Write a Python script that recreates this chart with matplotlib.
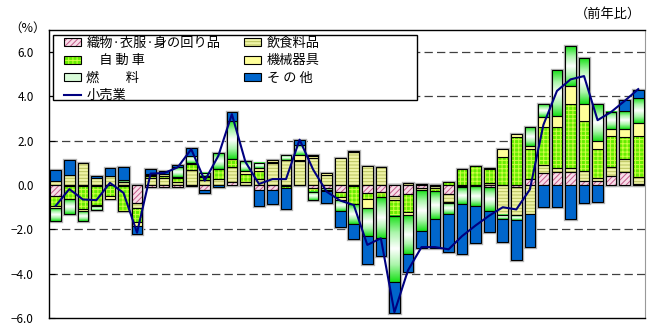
import numpy as np
import matplotlib
matplotlib.use('Agg')
import matplotlib.pyplot as plt
from matplotlib.colors import LinearSegmentedColormap
from matplotlib.patches import Rectangle, Patch
from matplotlib.lines import Line2D

plt.rcParams['font.family'] = ['Noto Sans CJK JP', 'DejaVu Sans']
plt.rcParams['hatch.linewidth'] = 0.7
plt.rcParams['lines.scale_dashes'] = False

# 寄与度 (%), 44 期間
textile = [-0.5, -0.05, -0.05, -0.05, 0.0, -0.05, -0.8, -0.1, -0.1, -0.1,
           -0.05, -0.2, 0.0, 0.12, 0.0, -0.2, -0.2, -0.03, 0.0, -0.12,
           -0.12, -0.3, -0.02, -0.35, -0.33, -0.48, -0.4, -0.12, -0.05, -0.42,
           -0.05, 0.0, -0.1, 0.0, -0.1, 0.27, 0.55, 0.57, 0.57, 0.2,
           0.2, 0.42, 0.57, 0.05]
food = [0.2, 0.45, 0.98, 0.32, 0.42, 0.12, -0.25, 0.3, 0.3, 0.12,
        0.68, 0.25, 0.27, 0.68, 0.15, 0.27, 1.0, 1.15, 1.1, 1.2,
        0.45, 1.23, 1.5, 0.87, 0.8, -0.2, 0.1, -0.1, -0.1, -0.35,
        -0.05, -0.05, 0.1, -1.35, -1.27, -1.3, 0.35, 0.22, 0.22, 0.45,
        0.1, 0.38, 0.6, 0.3]
auto = [-0.45, -0.6, -1.05, -0.85, -0.5, -1.1, -0.6, 0.1, 0.1, 0.2,
        0.25, 0.1, 0.45, 0.38, 0.35, 0.38, 0.04, -0.12, 0.05, -0.18,
        -0.1, -0.22, -0.85, -0.27, -0.22, -0.7, -0.83, 0.07, -0.12, 0.15,
        0.72, 0.84, 0.62, 1.25, 2.15, 1.35, 1.7, 1.85, 2.86, 2.26,
        1.35, 1.43, 0.98, 1.88]
machinery = [-0.1, 0.0, -0.08, -0.05, -0.15, 0.0, -0.2, 0.05, 0.1, 0.05,
             0.05, 0.05, 0.02, 0.0, 0.15, 0.12, 0.1, 0.0, 0.2, 0.12,
             0.08, -0.15, 0.05, -0.4, 0.0, -0.02, -0.12, 0.0, 0.0, -0.05,
             0.0, 0.0, 0.03, 0.37, 0.15, 0.15, 0.48, 0.48, 0.83, 0.75,
             0.35, 0.3, 0.4, 0.57]
fuel = [-0.55, -0.65, -0.45, -0.18, 0.0, 0.1, 0.0, 0.07, 0.0, 0.45,
        0.35, 0.15, 0.69, 1.73, 0.42, 0.23, 0.0, 0.22, 0.48, -0.38,
        -0.05, -0.5, -0.87, -1.28, -1.84, -2.98, -1.75, -1.84, -1.25, -0.5,
        -0.75, -0.9, -1.05, -0.2, -0.2, 0.83, 0.57, 2.07, 1.8, 2.06,
        1.65, 0.78, 0.8, 1.11]
other = [0.47, 0.67, 0.0, 0.1, 0.35, 0.58, -0.38, 0.2, 0.15, 0.08,
         0.35, -0.15, -0.1, 0.37, 0.0, -0.75, -0.67, -0.95, 0.22, 0.05,
         -0.55, -0.74, -0.68, -1.28, -0.8, -1.38, -0.83, -0.77, -1.3, -1.68,
         -2.25, -1.68, -0.95, -1.03, -1.81, -1.51, -0.98, -0.97, -1.53, -0.81,
         -0.75, 0.0, 0.48, 0.39]
retail = [-0.93, -0.18, -0.65, -0.68, 0.1, -0.35, -2.15, 0.52, 0.54, 0.8,
          1.62, 0.2, 1.32, 3.2, 1.05, 0.05, 0.27, 0.27, 2.05, 0.7,
          -0.3, -0.7, -0.9, -2.7, -2.4, -5.74, -3.85, -2.8, -2.8, -2.9,
          -2.3, -1.82, -1.38, -1.0, -1.1, -0.2, 2.72, 4.25, 4.77, 4.92,
          2.93, 3.3, 3.8, 4.33]

labels = ['織物·衣服·身の回り品', '飲食料品', '　自 動 車', '機械器具', '燃　　料', 'そ の 他']
retail_label = '小売業'

fuel_cmap = LinearSegmentedColormap.from_list(
    'fuel', [(0.0, '#19e019'), (0.25, '#a8f5a8'), (0.5, '#ffffff'),
             (0.75, '#a8f5a8'), (1.0, '#19e019')])

styles = [
    dict(face='#f7dde8', hatch='//////', hc='#c45a8a'),
    dict(face='#eef3a6', hatch='-----', hc='#b9c25c'),
    dict(face='#66ee00', hatch='++++', hc='#ccff44'),
    dict(face='#ffff99', hatch=None, hc=None),
    dict(face='gradient', hatch=None, hc=None),
    dict(face='#0066cc', hatch=None, hc=None),
]

fig = plt.figure(figsize=(6.47, 3.24), dpi=100)
ax = fig.add_axes([49 / 647, 1 - 318 / 324, 596 / 647, 288 / 324])

n = len(retail)
x = np.arange(n)
width = 0.78
all_series = [np.array(s, dtype=float) for s in [textile, food, auto, machinery, fuel, other]]
pos_total = sum(np.clip(s, 0, None) for s in all_series)
neg_total = sum(np.clip(s, None, 0) for s in all_series)

# 棒の影
for tot in [pos_total, neg_total]:
    ax.bar(x, tot, width, color='#b4b4b4', edgecolor='#b4b4b4', linewidth=2.4, zorder=2.5)

pos_base = np.zeros(n)
neg_base = np.zeros(n)
handles = []
for v, st in zip(all_series, styles):
    bottom = np.where(v >= 0, pos_base, neg_base)
    if st['hatch']:
        ax.bar(x, v, width, bottom=bottom, color=st['face'], edgecolor=st['hc'],
               hatch=st['hatch'], linewidth=0, zorder=3)
        ax.bar(x, v, width, bottom=bottom, facecolor='none', edgecolor='black',
               linewidth=0.8, zorder=3.2)
        h = (Patch(facecolor=st['face'], edgecolor=st['hc'], hatch=st['hatch'], linewidth=0),
             Patch(facecolor='none', edgecolor='black', linewidth=0.8))
    elif st['face'] == 'gradient':
        bars = ax.bar(x, v, width, bottom=bottom, facecolor='none', edgecolor='black',
                      linewidth=0.8, zorder=3.2)
        grad = np.linspace(0, 1, 64).reshape(-1, 1)
        for r in bars:
            hgt = r.get_height()
            if hgt == 0:
                continue
            y0, y1 = sorted([r.get_y(), r.get_y() + hgt])
            ax.imshow(grad, extent=[r.get_x(), r.get_x() + r.get_width(), y0, y1],
                      cmap=fuel_cmap, aspect='auto', interpolation='bilinear', zorder=3)
        h = Patch(facecolor='#d8fbd8', edgecolor='black', linewidth=0.8)
    else:
        ax.bar(x, v, width, bottom=bottom, color=st['face'], edgecolor='black',
               linewidth=0.8, zorder=3.2)
        h = Patch(facecolor=st['face'], edgecolor='black', linewidth=0.8)
    handles.append(h)
    pos_base += np.where(v > 0, v, 0)
    neg_base += np.where(v < 0, v, 0)

ax.plot(x, retail, color='#000080', linewidth=1.5, zorder=5)
line_handle = Line2D([], [], color='#000080', linewidth=1.5)

ax.set_xlim(-0.5, n - 0.5)
ax.set_ylim(-6, 7)
ticks = np.arange(-6, 7, 2)
ax.set_yticks(ticks)
ax.set_yticklabels([f'{t:.1f}'.replace('-', '−') for t in ticks], fontsize=8.5)
ax.tick_params(axis='y', direction='in', length=4, pad=11)
ax.set_xticks([])

for t in [-4, -2, 2, 4, 6]:
    ax.axhline(t, color='#404040', linewidth=0.9, linestyle=(0, (6, 3)), zorder=1)
ax.axhline(0, color='#303030', linewidth=1.6, zorder=2)

for s in ['left', 'bottom', 'top']:
    ax.spines[s].set_color('black')
    ax.spines[s].set_linewidth(1.0)
ax.spines['right'].set_color('#999999')
ax.spines['right'].set_linewidth(0.8)

# 凡例枠
box = Rectangle(((53 - 49) / 596, 1 - 70 / 288), (417 - 53) / 596, 65 / 288,
                transform=ax.transAxes, facecolor='white', edgecolor='black',
                linewidth=1.0, zorder=6)
ax.add_patch(box)
order = [handles[0], handles[2], handles[4], line_handle, handles[1], handles[3], handles[5]]
order_labels = [labels[0], labels[2], labels[4], retail_label, labels[1], labels[3], labels[5]]
leg = fig.legend(order, order_labels, ncol=2, loc='upper left',
                 bbox_to_anchor=(64 / 647, 1 - 37 / 324), frameon=False,
                 fontsize=9.5, handlelength=1.3, handleheight=0.55, handletextpad=0.4,
                 columnspacing=1.8, labelspacing=0.33, borderpad=0.0, borderaxespad=0)
leg.set_zorder(7)

fig.text(28 / 647, 1 - 28 / 324, '（%）', fontsize=9, ha='center', va='center')
fig.text(608 / 647, 1 - 14 / 324, '（前年比）', fontsize=9.5, ha='center', va='center')

fig.savefig('out.png', dpi=100)
